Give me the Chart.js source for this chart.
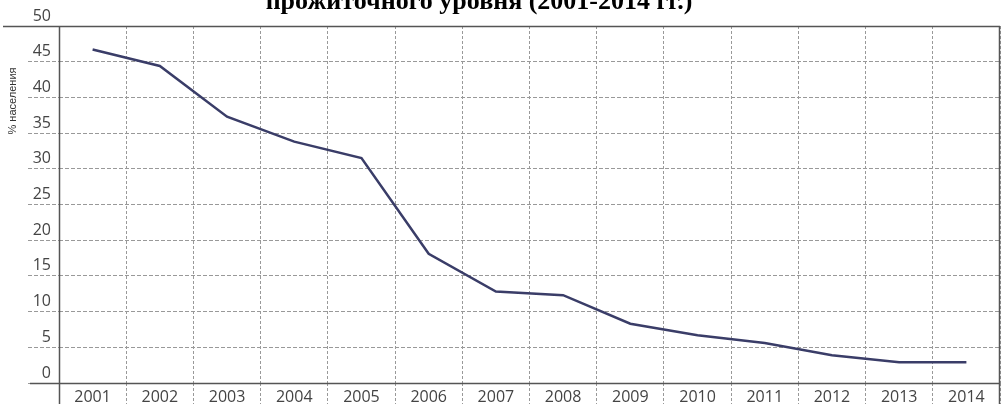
<!DOCTYPE html>
<html>
<head>
<meta charset="utf-8">
<script src="https://cdn.jsdelivr.net/npm/chart.js@4"></script>
<style>
html,body{margin:0;padding:0;background:#fff;}
#wrap{width:1002px;height:404px;position:relative;}
</style>
</head>
<body>
<div id="wrap"><canvas id="c" width="1002" height="404"></canvas></div>
<script>
const years = ['2001','2002','2003','2004','2005','2006','2007','2008','2009','2010','2011','2012','2013','2014'];
const povertyShare = [46.7, 44.4, 37.3, 33.8, 31.5, 18.1, 12.8, 12.3, 8.3, 6.7, 5.6, 3.9, 2.9, 2.9];
const yTickValues = [0, 5, 10, 15, 20, 25, 30, 35, 40, 45, 50];
const chartTitle = 'прожиточного уровня (2001-2014 гг.)';
const yAxisTitle = '% населения';

const framePlugin = {
  id: 'frame',
  afterDraw(chart) {
    const ctx = chart.ctx;
    const a = chart.chartArea;
    ctx.save();
    ctx.strokeStyle = '#555';
    ctx.lineWidth = 1.5;
    ctx.setLineDash([]);
    ctx.beginPath();
    ctx.moveTo(3, a.top + 0.5); ctx.lineTo(a.right, a.top + 0.5);
    ctx.moveTo(30, a.bottom + 0.5); ctx.lineTo(a.right, a.bottom + 0.5);
    ctx.moveTo(a.left + 0.5, a.top); ctx.lineTo(a.left + 0.5, chart.height);
    ctx.moveTo(a.right - 0.5, a.top); ctx.lineTo(a.right - 0.5, chart.height);
    ctx.stroke();
    ctx.fillStyle = '#000';
    ctx.font = 'bold 26px "Liberation Serif", "Times New Roman", serif';
    ctx.textAlign = 'center';
    ctx.textBaseline = 'alphabetic';
    ctx.fillText(chartTitle, 479, 9);
    ctx.translate(13, 101);
    ctx.rotate(-Math.PI / 2);
    ctx.font = '11px "Liberation Sans Narrow", "Liberation Sans", sans-serif';
    ctx.fillStyle = '#333';
    ctx.textBaseline = 'middle';
    ctx.fillText(yAxisTitle, 0, 0);
    ctx.restore();
  }
};

new Chart(document.getElementById('c'), {
  type: 'line',
  data: {
    labels: years,
    datasets: [{
      data: povertyShare,
      borderColor: '#3a3d68',
      borderWidth: 2.5,
      pointRadius: 0,
      tension: 0,
      fill: false
    }]
  },
  options: {
    responsive: false,
    animation: false,
    devicePixelRatio: 1,
    layout: { padding: { top: 26, right: 2, left: 0, bottom: 0 } },
    plugins: { legend: { display: false }, tooltip: { enabled: false }, title: { display: false } },
    scales: {
      x: {
        type: 'category',
        offset: true,
        border: { display: false, dash: [3, 2] },
        grid: {
          offset: true,
          color: '#999',
          lineWidth: 1,
          drawTicks: true,
          tickLength: 21,
          tickColor: '#999',
          tickBorderDash: [3, 2]
        },
        ticks: {
          color: '#444',
          font: { family: '"Open Sans", sans-serif', size: 16 },
          padding: -16,
          maxRotation: 0,
          autoSkip: false
        },
        afterFit(s) { s.height = 21; }
      },
      y: {
        min: 0,
        max: 50,
        border: { display: false, dash: [4, 2] },
        afterBuildTicks(s) { s.ticks = yTickValues.map(v => ({ value: v })); },
        grid: {
          color: '#999',
          lineWidth: 1,
          drawTicks: true,
          tickLength: 31,
          tickColor: '#999',
          tickBorderDash: [4, 2]
        },
        ticks: {
          color: '#444',
          font: { family: '"Open Sans", sans-serif', size: 16 },
          padding: -23,
          labelOffset: -10
        },
        afterFit(s) { s.width = 59; }
      }
    }
  },
  plugins: [framePlugin]
});
</script>
</body>
</html>
